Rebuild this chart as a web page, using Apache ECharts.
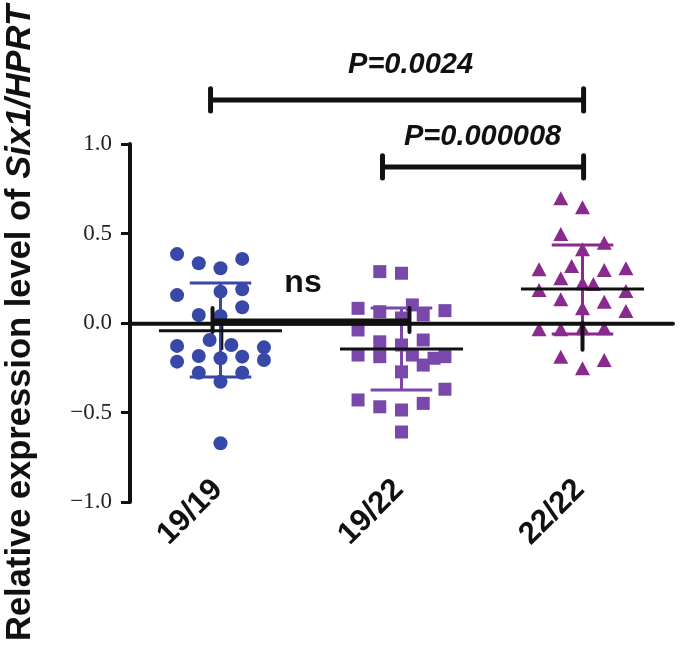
<!DOCTYPE html>
<html>
<head>
<meta charset="utf-8">
<script src="https://cdn.jsdelivr.net/npm/echarts@6/dist/echarts.min.js"></script>
<style>html,body{margin:0;padding:0;background:#fff;}#c{width:680px;height:649px;}</style>
</head>
<body>
<div id="c"></div>
<script>
// ---------- data ----------
const categories = ['19/19', '19/22', '22/22'];
const yTicks = [-1.0, -0.5, 0.0, 0.5, 1.0];

// values, with their jitter column (in units of one dot width)
const g1Values = [0.385, 0.334, 0.306, 0.358, 0.156, 0.175, 0.188, 0.088, 0.045, 0.039, -0.095, -0.123,
                  -0.128, -0.136, -0.216, -0.184, -0.197, -0.188, -0.207, -0.278, -0.278, -0.328, -0.672];
const g1Cols   = [-2, -1, 0, 1, -2, 0, 1, 1, -1, 0, -0.5, 0.5, -2, 2, -2, -1, 0, 1, 2, -1, 1, 0, 0];

const g2Values = [0.287, 0.278, 0.082, 0.063, 0.101, 0.045, 0.069, 0.028, -0.039, -0.105, -0.123, -0.095,
                  -0.179, -0.188, -0.179, -0.197, -0.188, -0.273, -0.235, -0.370, -0.430, -0.468, -0.486, -0.449, -0.609];
const g2Cols   = [-1, 0, -2, -1, 0.5, 1, 2, 0, -2, -1, 0, 1, -2, -1, 0.5, 1.5, 2, 0, 1, 2, -2, -1, 0, 1, 0];

const g3Values = [0.697, 0.646, 0.497, 0.449, 0.412, 0.300, 0.318, 0.296, 0.306, 0.250, 0.222, 0.218,
                  0.184, 0.179, 0.132, 0.119, 0.082, 0.067, -0.035, -0.035, -0.030, -0.030, -0.188, -0.207, -0.253];
const g3Cols   = [-1, 0, -1, 1, 0, -2, -0.5, 1, 2, -1, 0, 0.5, -2, 2, -1, 1, 0, 2, -2, -1, 0, 1, -1, 1, 0];

const groupMeans = [-0.043, -0.145, 0.190];
const sdUpper    = [0.223, 0.084, 0.436];
const sdLower    = [-0.302, -0.374, -0.061];

const pLabels = ['P=0.0024', 'P=0.000008', 'ns'];

// ---------- styling ----------
const COL_STEP = 0.12;
const CAP_HALF = 0.17;
const MEAN_HALF = 0.34;
const blue = '#3748a8';
const violet = '#7a48ab';
const magenta = '#8a2a8e';
const SANS = 'Liberation Sans, Arial, sans-serif';

function pts(values, cols, g) {
  return values.map((v, i) => [g + cols[i] * COL_STEP, v]);
}
function seg(coords, color, width, z, cap) {
  return {
    type: 'line', xAxisIndex: 1, yAxisIndex: 0, data: coords, symbol: 'none',
    clip: false, silent: true, animation: false, z: z,
    lineStyle: { color: color, width: width, cap: cap || 'butt' }
  };
}

const series = [];
const groups = [
  { data: pts(g1Values, g1Cols, 1), symbol: 'circle', size: 14, color: blue },
  { data: pts(g2Values, g2Cols, 2), symbol: 'rect', size: 13, color: violet },
  { data: pts(g3Values, g3Cols, 3), symbol: 'triangle', size: [15, 14], color: magenta }
];
groups.forEach((gr, i) => {
  series.push({
    type: 'scatter', xAxisIndex: 1, yAxisIndex: 0, data: gr.data, symbol: gr.symbol,
    symbolSize: gr.size, itemStyle: { color: gr.color, opacity: 1 }, z: 2, animation: false
  });
  const g = i + 1;
  series.push(seg([[g, sdLower[i]], [g, sdUpper[i]]], gr.color, 3, 3));
  series.push(seg([[g - CAP_HALF, sdUpper[i]], [g + CAP_HALF, sdUpper[i]]], gr.color, 3, 3));
  series.push(seg([[g - CAP_HALF, sdLower[i]], [g + CAP_HALF, sdLower[i]]], gr.color, 3, 3));
  series.push(seg([[g - MEAN_HALF, groupMeans[i]], [g + MEAN_HALF, groupMeans[i]]], '#111', 3, 5));
});

// zero reference line
series.push(seg([[0.503, -0.004], [3.5, -0.004]], '#111', 4, 5, 'round'));
series.push(seg([[1.01, 0], [1.01, -0.15]], '#111', 2, 5));
series.push(seg([[3.0, 0], [3.0, -0.15]], '#111', 4, 5, 'round'));

function bracket(x1, x2, y, h, w) {
  series.push(seg([[x1, y], [x2, y]], '#111', w, 6));
  series.push(seg([[x1, y - h], [x1, y + h]], '#111', w, 6, 'round'));
  series.push(seg([[x2, y - h], [x2, y + h]], '#111', w, 6, 'round'));
}
bracket(0.945, 3.006, 1.246, 0.062, 5);
bracket(1.895, 3.006, 0.872, 0.062, 5);
series.push(seg([[0.956, 0.006], [2.044, 0.006]], '#111', 7, 6));
series.push(seg([[0.956, -0.05], [0.956, 0.084]], '#111', 4, 6, 'round'));
series.push(seg([[2.044, -0.05], [2.044, 0.084]], '#111', 4, 6, 'round'));

// text labels via custom series
const textX = [2.05, 2.448, 1.456];
const textY = [1.441, 1.039, 0.221];
series.push({
  type: 'custom', xAxisIndex: 1, yAxisIndex: 0, clip: false, silent: true, animation: false, z: 7,
  data: textX.map((x, i) => [x, textY[i], i]),
  renderItem: function (params, api) {
    const i = api.value(2);
    const p = api.coord([api.value(0), api.value(1)]);
    const italic = i < 2 ? 'italic ' : '';
    const size = i < 2 ? 29 : 32;
    return {
      type: 'text', x: p[0], y: p[1],
      style: {
        text: pLabels[i], fill: '#111', align: 'center', verticalAlign: 'middle',
        font: italic + 'bold ' + size + 'px ' + SANS
      }
    };
  }
});

const option = {
  animation: false,
  backgroundColor: '#fff',
  grid: { left: 130, top: 144, width: 543, height: 358, containLabel: false, outerBoundsMode: 'none' },
  xAxis: [
    {
      type: 'category', data: categories, boundaryGap: true, gridIndex: 0,
      axisLine: { show: false }, axisTick: { show: false }, splitLine: { show: false },
      axisLabel: {
        rotate: 45, margin: -20, color: '#111', fontSize: 31, fontWeight: 'bold',
        fontFamily: SANS, interval: 0, padding: [0, 4, 0, 0]
      }
    },
    { type: 'value', min: 0.5, max: 3.5, show: false, gridIndex: 0 }
  ],
  yAxis: {
    type: 'value', min: -1, max: 1, interval: 0.5,
    axisLine: { show: true, lineStyle: { color: '#111', width: 4 } },
    axisTick: { show: true, inside: false, length: 9, lineStyle: { color: '#111', width: 3 } },
    splitLine: { show: false },
    axisLabel: {
      margin: 18, color: '#222', fontSize: 23, fontFamily: 'Liberation Serif, Times New Roman, serif',
      formatter: v => (v < 0 ? '\u2212' : '') + Math.abs(v).toFixed(1)
    },
    name: '{a|Relative expression level of }{b|Six1/HPRT}',
    nameLocation: 'middle', nameGap: 92, nameRotate: 90,
    nameTextStyle: {
      rich: {
        a: { fontSize: 34.5, fontWeight: 'bold', color: '#111', fontFamily: SANS },
        b: { fontSize: 34.5, fontWeight: 'bold', fontStyle: 'italic', color: '#111', fontFamily: SANS }
      }
    }
  },
  series: series
};

const chart = echarts.init(document.getElementById('c'), null, { renderer: 'canvas' });
chart.setOption(option);
</script>
</body>
</html>
